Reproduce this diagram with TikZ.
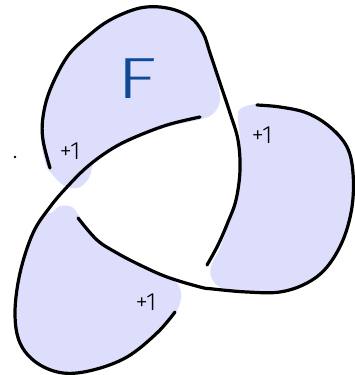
\documentclass[tikz,border=0pt]{standalone}
\usepackage{fontspec}
\newfontfamily\handfont{Fira Sans Light}
\definecolor{lobefill}{RGB}{220,222,251}
\definecolor{fblue}{RGB}{14,74,150}
\tikzset{
  lobe/.style={fill=lobefill, draw=none},
  strand/.style={draw=black, line width=3.2pt, line cap=round, line join=round},
  pluslabel/.style={font=\handfont\fontsize{25}{25}\selectfont, inner sep=0pt}
}
\begin{document}
\begin{tikzpicture}[x=1pt,y=-1pt]
\useasboundingbox (0,0) rectangle (355,375);
% shaded lobes
\fill[lobe] plot[smooth cycle, tension=0.6] coordinates {
  (46,165) (41,140) (42,115) (50,88) (67,57) (87,37) (110,20) (140,9) (167,9)
  (190,18) (203,34) (210,54) (217,80) (220,100) (214,113) (202,119) (167,127)
  (133,140) (110,152) (94,163) (89,178) (78,188) (63,185) (52,174)};
\fill[lobe] plot[smooth cycle, tension=0.6] coordinates {
  (240,109) (257,104) (280,107) (307,113) (330,127) (347,147) (352,173) (351,207)
  (343,240) (327,267) (307,282) (280,291) (247,292) (222,288) (212,279) (211,266)
  (220,248) (229,222) (236,200) (240,170) (240,140) (238,120)};
\fill[lobe] plot[smooth cycle, tension=0.6] coordinates {
  (53,212) (60,206) (72,207) (80,217) (97,240) (117,253) (140,265) (167,277)
  (178,284) (181,297) (176,312) (157,333) (127,357) (93,370) (63,373) (37,363)
  (20,343) (15,313) (20,273) (33,233) (46,215)};
% strands
\draw[strand] plot[smooth, tension=0.6] coordinates {
  (50,168) (43,140) (43,117) (50,90) (67,57) (87,37) (110,20) (140,8) (167,8)
  (190,17) (203,33) (210,53) (220,83) (230,113) (238,140) (240,170) (236,200)
  (228,222) (218,245) (207,265)};
\draw[strand] plot[smooth, tension=0.6] coordinates {
  (200,117) (167,125) (133,138) (110,150) (87,167) (67,187) (50,207) (33,233)
  (20,273) (15,313) (20,343) (37,363) (63,373) (93,370) (127,357) (157,333) (175,312)};
\draw[strand] plot[smooth, tension=0.6] coordinates {
  (78,218) (97,240) (117,253) (140,265) (167,277) (200,287) (213,289) (247,292)
  (280,292) (307,283) (327,267) (343,240) (352,207) (353,173) (347,147) (330,127)
  (307,113) (280,107) (257,105)};
% labels
\node[text=fblue, font=\handfont\fontsize{58}{58}\selectfont, inner sep=0pt,
      transform shape, xscale=1.45] (F) at (137,79) {F};
\node[pluslabel] (p1) at (70,151) {+1};
\node[pluslabel] (p2) at (262,135) {+1};
\node[pluslabel] (p3) at (146,302) {+1};
\fill (15,157) circle (1.3) coordinate (dot);
\end{tikzpicture}
\end{document}
